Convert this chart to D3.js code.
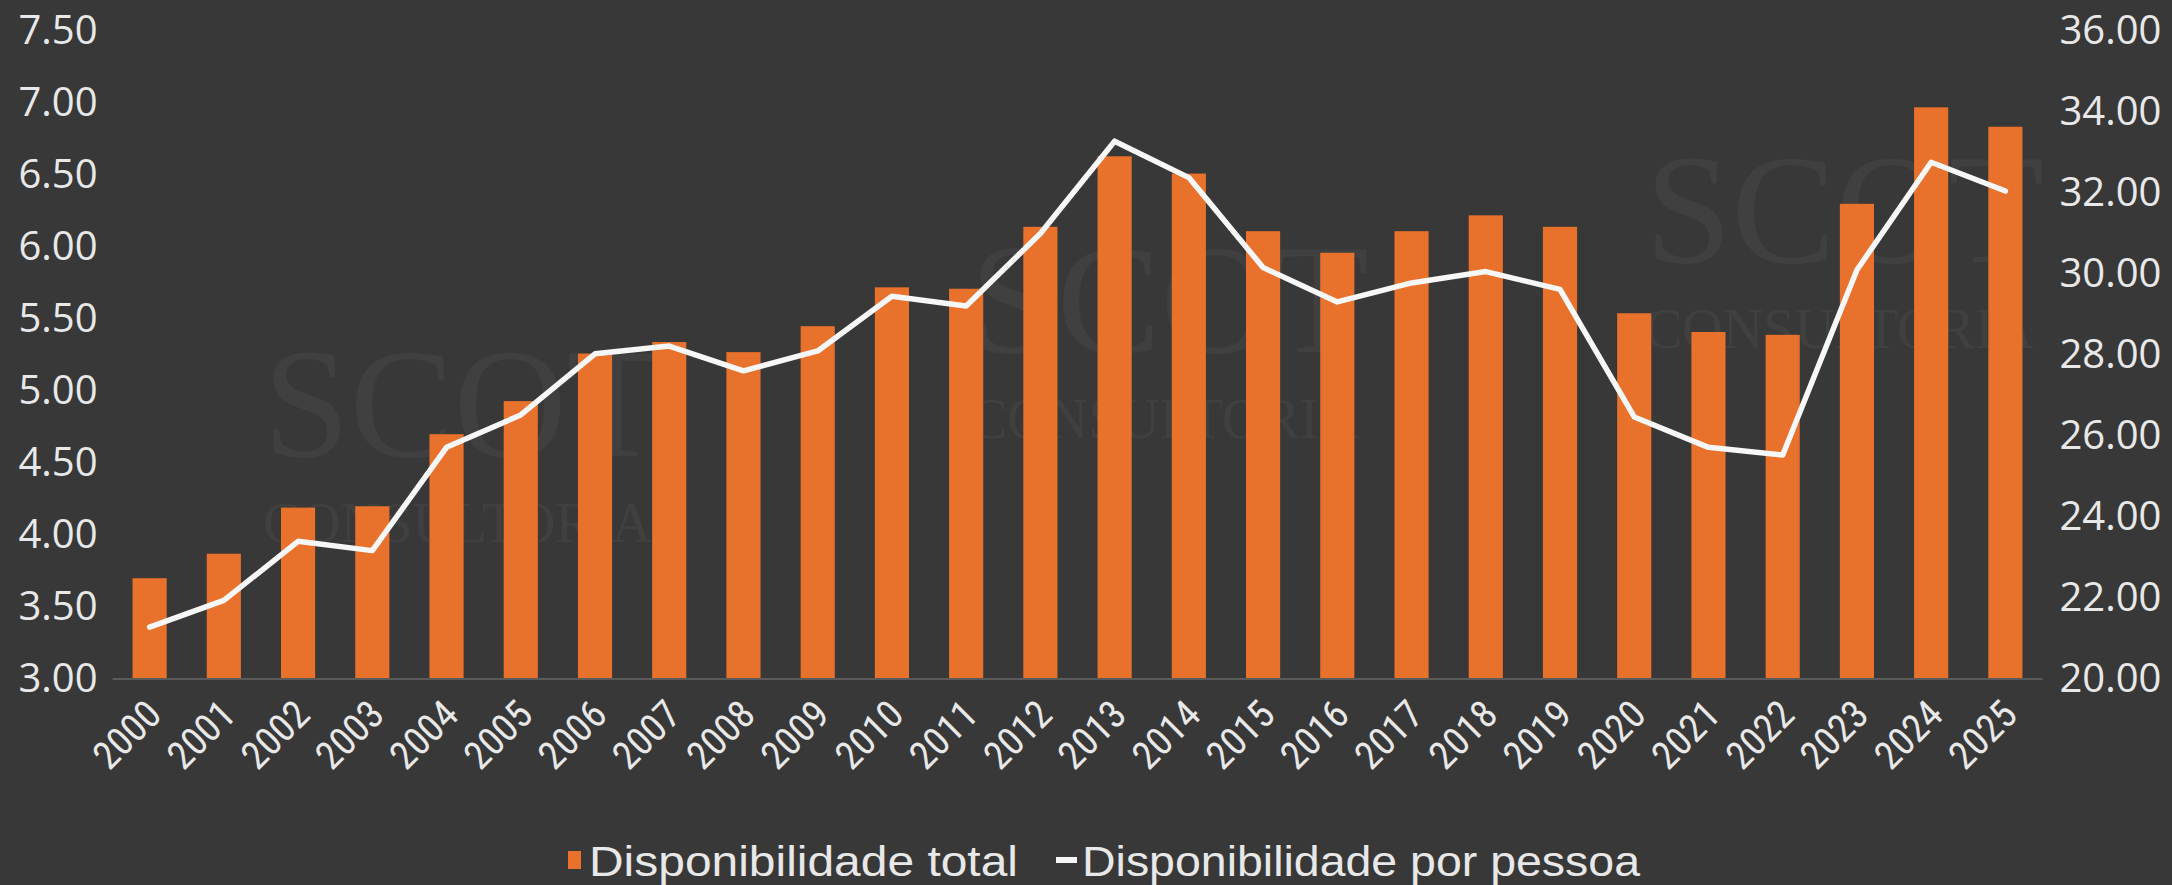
<!DOCTYPE html>
<html>
<head>
<meta charset="utf-8">
<script src="https://cdn.jsdelivr.net/npm/d3@7"></script>
<style>
  html, body { margin: 0; padding: 0; background: #383838; }
  svg { display: block; }
</style>
</head>
<body>
<svg id="chart" width="2172" height="885"></svg>
<script>
// ---- data ----
const years = ["2000","2001","2002","2003","2004","2005","2006","2007","2008","2009",
               "2010","2011","2012","2013","2014","2015","2016","2017","2018","2019",
               "2020","2021","2022","2023","2024","2025"];
const totalAvailability = [3.70, 3.87, 4.19, 4.20, 4.70, 4.93, 5.26, 5.34, 5.27, 5.45,
                           5.72, 5.71, 6.14, 6.63, 6.51, 6.11, 5.96, 6.11, 6.22, 6.14,
                           5.54, 5.41, 5.39, 6.30, 6.97, 6.835];
const perPersonAvailability = [21.28, 21.94, 23.40, 23.17, 25.72, 26.52, 28.03, 28.22, 27.61, 28.10,
                               29.45, 29.21, 31.00, 33.28, 32.38, 30.16, 29.31, 29.78, 30.06, 29.62,
                               26.47, 25.72, 25.53, 30.10, 32.76, 32.05];
const leftTicks = [3.0, 3.5, 4.0, 4.5, 5.0, 5.5, 6.0, 6.5, 7.0, 7.5];
const rightTicks = [20, 22, 24, 26, 28, 30, 32, 34, 36];
const legendLabels = ["Disponibilidade total", "Disponibilidade por pessoa"];
const watermarkWords = ["SCOT", "CONSULTORIA"];

// ---- layout ----
const W = 2172, H = 885;
const plot = { left: 112.5, right: 2042.5, top: 31, bottom: 679 };
const colors = { bg: "#383838", bar: "#E8712B", line: "#F7F7F7", text: "#E8E8E8", axis: "#5A5A5A" };

const svg = d3.select("#chart");
svg.append("rect").attr("width", W).attr("height", H).attr("fill", colors.bg);

// faint watermarks (behind the marks)
const wm = svg.append("g").attr("fill", "#ffffff").attr("fill-opacity", 0.045)
  .style("font-family", "'Liberation Serif', 'DejaVu Serif', serif");
[[263, 456], [970, 352], [1645, 262]].forEach(([x0, yS]) => {
  wm.append("text").attr("x", x0).attr("y", yS).attr("font-size", 156).text(watermarkWords[0]);
  wm.append("text").attr("x", x0).attr("y", yS + 86).attr("font-size", 56).text(watermarkWords[1]);
});

// ---- scales ----
const x = d3.scaleBand().domain(years).range([plot.left, plot.right])
  .paddingInner(0.54).paddingOuter(0.27);
const yL = d3.scaleLinear().domain([3, 7.5]).range([plot.bottom, plot.top]);
const yR = d3.scaleLinear().domain([20, 36]).range([plot.bottom, plot.top]);

// ---- bars ----
svg.append("g").selectAll("rect").data(years).join("rect")
  .attr("x", d => x(d))
  .attr("width", x.bandwidth())
  .attr("y", (d, i) => yL(totalAvailability[i]))
  .attr("height", (d, i) => yL(3) - yL(totalAvailability[i]))
  .attr("fill", colors.bar);

// baseline
svg.append("line")
  .attr("x1", plot.left).attr("x2", plot.right)
  .attr("y1", yL(3)).attr("y2", yL(3))
  .attr("stroke", colors.axis).attr("stroke-width", 2);

// ---- line ----
const line = d3.line()
  .x((d, i) => x(years[i]) + x.bandwidth() / 2)
  .y(d => yR(d));
svg.append("path").datum(perPersonAvailability)
  .attr("d", line)
  .attr("fill", "none")
  .attr("stroke", colors.line)
  .attr("stroke-width", 5.5)
  .attr("stroke-linejoin", "round")
  .attr("stroke-linecap", "round");

// ---- axes ----
const tickFont = "'Open Sans', 'Noto Sans', sans-serif";
const axL = svg.append("g").attr("transform", `translate(${plot.left},0)`)
  .call(d3.axisLeft(yL).tickValues(leftTicks).tickFormat(d3.format(".2f")).tickSize(0).tickPadding(15));
const axR = svg.append("g").attr("transform", `translate(${plot.right},0)`)
  .call(d3.axisRight(yR).tickValues(rightTicks).tickFormat(d3.format(".2f")).tickSize(0).tickPadding(17));
[axL, axR].forEach(a => {
  a.select(".domain").remove();
  a.selectAll("text").attr("fill", colors.text).style("font-family", tickFont).style("font-size", "40px");
});

const axX = svg.append("g").attr("transform", `translate(0,${plot.bottom})`)
  .call(d3.axisBottom(x).tickSize(0).tickPadding(0));
axX.select(".domain").remove();
axX.selectAll("text")
  .attr("fill", colors.text)
  .style("font-family", "'Liberation Sans Narrow', 'Roboto Condensed', 'Liberation Sans', sans-serif")
  .style("font-size", "39px")
  .attr("text-anchor", "end")
  .attr("dy", 0)
  .attr("y", 0)
  .attr("transform", "translate(14,38) rotate(-45)");

// ---- legend ----
const legendFont = "'Liberation Sans Narrow', 'Liberation Sans', sans-serif";
const lg = svg.append("g");
lg.append("rect").attr("x", 568).attr("y", 851).attr("width", 13).attr("height", 18).attr("fill", colors.bar);
lg.append("text").attr("x", 589).attr("y", 876).attr("fill", colors.text)
  .style("font-family", legendFont).style("font-size", "42px")
  .attr("textLength", 429).attr("lengthAdjust", "spacingAndGlyphs").text(legendLabels[0]);
lg.append("rect").attr("x", 1056).attr("y", 857).attr("width", 21).attr("height", 6).attr("fill", colors.line);
lg.append("text").attr("x", 1082).attr("y", 876).attr("fill", colors.text)
  .style("font-family", legendFont).style("font-size", "42px")
  .attr("textLength", 558).attr("lengthAdjust", "spacingAndGlyphs").text(legendLabels[1]);
</script>
</body>
</html>
